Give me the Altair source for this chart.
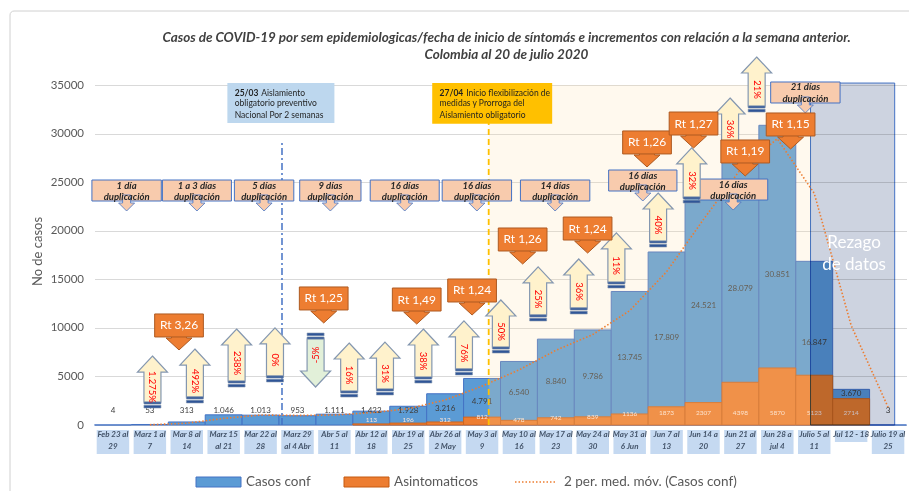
import altair as alt
import pandas as pd

# ---------------- data ----------------
week_line1 = ["Feb 23 al", "Marz 1 al", "Mar 8 al", "Marz 15", "Mar 22 al", "Marz 29",
              "Abr 5 al", "Abr 12 al", "Abr 19 al", "Abr 26 al", "May 3 al", "May 10 al",
              "May 17 al", "May 24 al", "May 31 al", "Jun 7 al", "Jun 14 a", "Jun 21 al",
              "Jun 28 a", "Julio 5 al", "Jul 12 - 18", "Julio 19 al"]
week_line2 = ["29", "7", "14", "al 21", "28", "al 4 Abr", "11", "18", "25", "2 May", "9",
              "16", "23", "30", "6 Jun", "13", "20", "27", "jul 4", "11", "", "25"]
casos_conf = [4, 53, 313, 1046, 1013, 953, 1111, 1422, 1928, 3216, 4791, 6540, 8840,
              9786, 13745, 17809, 24521, 28079, 30851, 16847, 3670, 3]
asintomaticos = [0, 0, 0, 0, 0, 0, 0, 113, 196, 312, 812, 478, 742, 839, 1136, 1873,
                 2307, 4398, 5870, 5123, 2714, 0]

title_text = ("Casos de COVID-19 por sem epidemiologicas/fecha de inicio de síntomás e "
              "incrementos con relación a la semana anterior.\nColombia al 20 de julio 2020")
legend_labels = ["Casos conf", "Asintomaticos", "2 per. med. móv. (Casos conf)"]
y_ticks = [0, 5000, 10000, 15000, 20000, 25000, 30000, 35000]

# percentage-change callouts (week position, arrow tip, arrow tail in cases)
pct_x = [1.07, 2.22, 3.35, 4.39, 5.49, 6.40, 7.37, 8.41, 9.51, 10.51, 11.52, 12.62,
         13.64, 14.77, 15.68, 16.72, 17.44]
pct_tip = [7100, 7820, 9880, 9990, 3910, 8440, 8540, 9880, 10710, 12870, 16270, 17090,
           19770, 23880, 28520, 33660, 37880]
pct_tail = [1750, 2270, 3910, 4430, 9470, 2880, 3090, 4320, 5150, 7410, 10710, 11430,
            14100, 18320, 22850, 28310, 32220]
pct_label = ["1.275%", "492%", "238%", "0%", "-5%", "16%", "31%", "38%", "76%", "50%",
             "25%", "36%", "11%", "40%", "32%", "36%", "21%"]

# Rt callouts (week position, top of box in cases)
rt_x = [1.79, 5.71, 8.23, 9.73, 11.10, 12.86, 14.47, 15.73, 17.13, 18.36]
rt_top = [11430, 14210, 14100, 15030, 20280, 21410, 30270, 32220, 29340, 32120]
rt_label = ["Rt 3,26", "Rt 1,25", "Rt 1,49", "Rt 1,24", "Rt 1,26", "Rt 1,24",
            "Rt 1,26", "Rt 1,27", "Rt 1,19", "Rt 1,15"]

# doubling-time callouts
dup_x1 = [-0.57, 1.34, 3.29, 5.06, 6.97, 8.92, 11.04, 13.43, 15.87, 17.82]
dup_x2 = [1.31, 3.21, 4.90, 6.72, 8.84, 10.80, 12.92, 15.28, 17.74, 19.70]
dup_top = [25220, 25220, 25220, 25220, 25220, 25220, 25220, 26250, 25320, 35310]
dup_label = ["1 día", "1 a 3 días", "5 días", "9 días", "16 días", "16 días",
             "14 días", "16 días", "16 días", "21 días"]

# notes
note_x1 = [3.1, 8.65]
note_x2 = [6.0, 11.9]
note_y1 = [31100, 31000]
note_y2 = [35200, 35200]
note_fill = ["#BDD7EE", "#FFC000"]
note_bold = ["25/03", "27/04"]
note_rest = ["Aislamiento", "Inicio flexibilización de"]
note_more = ["obligatorio preventivo\nNacional  Por 2 semanas",
             "medidas y Prorroga del\nAislamiento obligatorio"]

# event lines and shaded regions
vline_x = [4.58, 10.18]
vline_top = [29340, 35000]
cream_x = [10.18, 18.9]
rezago_x = [18.9, 21.18]
rezago_top = 35200

# ---------------- layout ----------------
W, H = 812, 340
X_DOM = [-0.5, 21.5]
Y_MAX = 35000
PX = Y_MAX / H  # cases per pixel
FONT = "Lato"

xs = alt.Scale(domain=X_DOM, nice=False, zero=False)
ys = alt.Scale(domain=[0, Y_MAX], nice=False, zero=False)

yaxis = alt.Axis(values=y_ticks, format="d", grid=True, gridColor="#D9D9D9", gridWidth=1.2,
                 domain=False, ticks=False, labelColor="#595959", labelFontSize=11.5,
                 labelFont=FONT, labelPadding=11, title="No de casos", titleFont=FONT,
                 titleFontSize=13, titleColor="#595959", titleFontWeight="normal",
                 titleX=-50, titleY=166)


def qx(f):
    return alt.X(f"{f}:Q", scale=xs, axis=None)


def qy(f):
    return alt.Y(f"{f}:Q", scale=ys, axis=yaxis)


one = pd.DataFrame({"k": [0]})

df = pd.DataFrame({"idx": list(range(len(casos_conf))), "casos": casos_conf,
                   "asin": asintomaticos, "l1": week_line1, "l2": week_line2})
df["x0"] = df["idx"] - 0.5
df["x1"] = df["idx"] + 0.5
df["b0"] = df["idx"] - 0.44
df["b1"] = df["idx"] + 0.44
df["zero"] = 0
df["lab_c"] = [f"{v:,}".replace(",", ".") for v in casos_conf]
df["ly_c"] = [max(v / 2, 1400, (v + a) / 2 if a > v / 2 else 0)
              for v, a in zip(casos_conf, asintomaticos)]
df["lab_a"] = [str(a) for a in asintomaticos]
df["ly_a"] = [min(max(a, 500), 1250) for a in asintomaticos]
df["xl"] = [a + ("\n" + b if b else "") for a, b in zip(week_line1, week_line2)]

border = alt.Chart(one).mark_rect(fillOpacity=0, stroke="#D0D0D0", strokeWidth=1,
                                  cornerRadius=4).encode(
    x=alt.value(-84.5), x2=alt.value(830), y=alt.value(-74), y2=alt.value(420))

blue_bars = alt.Chart(df).mark_rect(fill="#5B9BD5", stroke="#4472C4", strokeWidth=1).encode(
    x=qx("x0"), x2="x1", y=qy("zero"), y2="casos")

orange_bars = alt.Chart(df).transform_filter("datum.asin > 0").mark_rect(
    fill="#ED7D31", stroke="#D0651E", strokeWidth=1).encode(
    x=qx("x0"), x2="x1", y=qy("zero"), y2="asin")

lab_c = alt.Chart(df).mark_text(fontSize=8, color="#404040", font=FONT).encode(
    x=qx("idx"), y=qy("ly_c"), text="lab_c")
lab_a = alt.Chart(df).transform_filter("datum.asin > 0").mark_text(
    fontSize=6.5, color="#FCE4D6", font=FONT).encode(x=qx("idx"), y=qy("ly_a"), text="lab_a")

cream = alt.Chart(pd.DataFrame({"a": [cream_x[0]], "b": [cream_x[1]], "c": [0], "d": [Y_MAX]})
                  ).mark_rect(fill="#FFE3AC", fillOpacity=0.2).encode(
    x=qx("a"), x2="b", y=qy("c"), y2="d")

rezago = alt.Chart(pd.DataFrame({"a": [rezago_x[0]], "b": [rezago_x[1]], "c": [0],
                                 "d": [rezago_top]})).mark_rect(
    fill="#CDD3E0", stroke="#4472C4", strokeWidth=1, blend="multiply").encode(
    x=qx("a"), x2="b", y=qy("c"), y2="d")

ma_line = alt.Chart(df).transform_window(
    ma="mean(casos)", frame=[-1, 0], sort=[alt.SortField("idx")]
).transform_filter("datum.idx >= 1").mark_line(
    color="#ED7D31", strokeDash=[1.5, 2], strokeWidth=1.6).encode(x=qx("idx"), y=qy("ma"))

rezago_text = alt.Chart(pd.DataFrame({"x": [20.08], "y": [18700], "t": ["Rezago\nde datos"]})
                        ).mark_text(color="white", fontSize=17, lineBreak="\n", lineHeight=22,
                                    font=FONT).encode(x=qx("x"), y=qy("y"), text="t")

vdf = pd.DataFrame({"x": vline_x, "y0": [0, 0], "y1": vline_top})
vline_blue = alt.Chart(vdf.iloc[[0]]).mark_rule(color="#4472C4", strokeWidth=1.5,
                                               strokeDash=[7, 3, 2, 3]).encode(
    x=qx("x"), y=qy("y0"), y2="y1")
vline_yel = alt.Chart(vdf.iloc[[1]]).mark_rule(color="#FFC000", strokeWidth=1.8,
                                              strokeDash=[6, 4]).encode(
    x=qx("x"), y=qy("y0"), y2="y1")

ndf = pd.DataFrame({"x1": note_x1, "x2": note_x2, "y1": note_y1, "y2": note_y2,
                    "fill": note_fill, "bold": note_bold, "rest": note_rest, "more": note_more})
ndf["tx"] = ndf["x1"] + 0.2
ndf["tx2"] = ndf["x1"] + 0.92
ndf["ty"] = ndf["y2"] - 10 * PX
ndf["ty2"] = ndf["y2"] - 16 * PX
note_rect = alt.Chart(ndf).mark_rect().encode(
    x=qx("x1"), x2="x2", y=qy("y1"), y2="y2", fill=alt.Fill("fill:N", scale=None))
note_b = alt.Chart(ndf).mark_text(align="left", fontWeight="bold", fontSize=8.5,
                                  color="#1F1F1F", font=FONT).encode(
    x=qx("tx"), y=qy("ty"), text="bold")
note_r = alt.Chart(ndf).mark_text(align="left", fontSize=8.5, color="#1F1F1F",
                                  font=FONT).encode(x=qx("tx2"), y=qy("ty"), text="rest")
note_m = alt.Chart(ndf).mark_text(align="left", baseline="top", fontSize=8.5,
                                  color="#1F1F1F", font=FONT, lineBreak="\n",
                                  lineHeight=11.5).encode(
    x=qx("tx"), y=qy("ty2"), text="more")

# doubling boxes
ddf = pd.DataFrame({"x1": dup_x1, "x2": dup_x2, "ytop": dup_top, "lab": dup_label})
ddf["ybot"] = ddf["ytop"] - 21 * PX
ddf["xc"] = (ddf["x1"] + ddf["x2"]) / 2
ddf["yt"] = ddf["ytop"] - 5.5 * PX
ddf["ay"] = ddf["ybot"] - 2 * PX
ddf["txt"] = ddf["lab"] + "\nduplicación"
DUP_ARROW = "M-0.5,-1 L0.5,-1 L0.5,0 L1,0 L0,1 L-1,0 L-0.5,0 Z"
dup_rect = alt.Chart(ddf).mark_rect(fill="#F8CBAD", stroke="#4472C4", strokeWidth=1).encode(
    x=qx("x1"), x2="x2", y=qy("ybot"), y2="ytop")
dup_arrow = alt.Chart(ddf).mark_point(shape=DUP_ARROW, size=256, filled=True,
                                      fill="#F8CBAD", stroke="#4472C4", strokeWidth=0.8,
                                      opacity=1).encode(x=qx("xc"), y=qy("ay"))
dup_text = alt.Chart(ddf).mark_text(lineBreak="\n", lineHeight=11.5, fontStyle="italic",
                                    fontWeight="bold", fontSize=9.5, color="#262626",
                                    font=FONT).encode(x=qx("xc"), y=qy("yt"), text="txt")

# x category label boxes
xl_two = alt.Chart(df).transform_filter("datum.l2 != ''").mark_rect(fill="#C5D9F1").encode(
    x=qx("b0"), x2="b1", y=alt.value(345), y2=alt.value(369))
xl_one = alt.Chart(df).transform_filter("datum.l2 == ''").mark_rect(fill="#C5D9F1").encode(
    x=qx("b0"), x2="b1", y=alt.value(345), y2=alt.value(357))
xl_text = alt.Chart(df).mark_text(baseline="top", lineBreak="\n", lineHeight=12,
                                  fontStyle="italic", fontWeight="bold", fontSize=8,
                                  color="#44546A", font=FONT).encode(
    x=qx("idx"), y=alt.value(346), text="xl")

# percentage arrows
U = 60.0
HW, SW, HH, TAIL = 15, 8.5, 16, 6


def pth(pts):
    return "M" + " L".join(f"{x / U:.4f},{y / U:.4f}" for x, y in pts) + " Z"


def arrow_body(L, up):
    a = L / 2
    s = -1 if up else 1
    pts = [(0, s * a), (HW, s * (a - HH)), (SW, s * (a - HH)), (SW, -s * (a - TAIL)),
           (-SW, -s * (a - TAIL)), (-SW, s * (a - HH)), (-HW, s * (a - HH))]
    return pth(pts)


def arrow_stripes(L, up):
    a = L / 2
    s = 1 if up else -1
    bands = [(a - TAIL, a - 4), (a - 2.8, a)]
    out = []
    for y0, y1 in bands:
        out.append(pth([(-SW, s * y0), (SW, s * y0), (SW, s * y1), (-SW, s * y1)]))
    return " ".join(out)


pdf = pd.DataFrame({"x": pct_x, "ytip": pct_tip, "ytail": pct_tail, "lab": pct_label})
pdf["up"] = pdf["ytip"] > pdf["ytail"]
pdf["yc"] = (pdf["ytip"] + pdf["ytail"]) / 2
pdf["L"] = (pdf["ytip"] - pdf["ytail"]).abs() / PX
pdf["body"] = [arrow_body(L, u) for L, u in zip(pdf["L"], pdf["up"])]
pdf["stripes"] = [arrow_stripes(L, u) for L, u in zip(pdf["L"], pdf["up"])]
pdf["fillc"] = ["#FFF2CC" if u else "#E2F0D9" for u in pdf["up"]]
pdf["ty"] = [y - 5 * PX if u else y + 5 * PX for y, u in zip(pdf["yc"], pdf["up"])]
pdf["ang"] = [90 if u else 270 for u in pdf["up"]]
pdf = pdf.drop(columns=["up"])

pct_body = alt.Chart(pdf).mark_point(filled=True, size=14400, opacity=1, stroke="#8497B0",
                                     strokeWidth=1.2).encode(
    x=qx("x"), y=qy("yc"), shape=alt.Shape("body:N", scale=None),
    fill=alt.Fill("fillc:N", scale=None))
pct_str = alt.Chart(pdf).mark_point(filled=True, size=14400, opacity=1, fill="#2F5597",
                                    stroke="#8497B0", strokeWidth=0.6).encode(
    x=qx("x"), y=qy("yc"), shape=alt.Shape("stripes:N", scale=None))
pct_text = alt.Chart(pdf).mark_text(color="#FF0000", fontSize=9.5, font=FONT).encode(
    x=qx("x"), y=qy("ty"), text="lab", angle=alt.Angle("ang:Q", scale=None))

# Rt callouts
rdf = pd.DataFrame({"x": rt_x, "ytop": rt_top, "lab": rt_label})
rdf["ybot"] = rdf["ytop"] - 23 * PX
rdf["x1"] = rdf["x"] - 0.66
rdf["x2"] = rdf["x"] + 0.66
rdf["yc"] = (rdf["ytop"] + rdf["ybot"]) / 2
RT_ARROW = "M-0.58,-1 L0.58,-1 L0.58,0.08 L1,0.08 L0,1 L-1,0.08 L-0.58,0.08 Z"
rt_arrow = alt.Chart(rdf).mark_point(shape=RT_ARROW, size=676, filled=True, fill="#ED7D31",
                                     stroke="#AE5A21", strokeWidth=1, opacity=1).encode(
    x=qx("x"), y=qy("ybot"))
rt_rect = alt.Chart(rdf).mark_rect(fill="#ED7D31", stroke="#AE5A21", strokeWidth=1).encode(
    x=qx("x1"), x2="x2", y=qy("ybot"), y2="ytop")
rt_text = alt.Chart(rdf).mark_text(color="white", fontSize=12, font=FONT).encode(
    x=qx("x"), y=qy("yc"), text="lab")

# legend
leg_rect = alt.Chart(pd.DataFrame({"a": [101.5, 249.5], "b": [146.5, 294.5],
                                   "f": ["#5B9BD5", "#ED7D31"], "s": ["#4472C4", "#C55A11"]})
                     ).mark_rect(strokeWidth=1).encode(
    x=alt.X("a:Q", scale=None), x2="b", y=alt.value(392), y2=alt.value(402),
    fill=alt.Fill("f:N", scale=None), stroke=alt.Stroke("s:N", scale=None))
leg_line = alt.Chart(one).mark_rule(color="#ED7D31", strokeDash=[1.5, 2], strokeWidth=1.6
                                    ).encode(x=alt.value(420.5), x2=alt.value(462.5),
                                             y=alt.value(397))
leg_text = alt.Chart(pd.DataFrame({"a": [151.5, 299.5, 469.5], "t": legend_labels})
                     ).mark_text(align="left", fontSize=13.5, color="#595959", font=FONT
                                 ).encode(x=alt.X("a:Q", scale=None), y=alt.value(397), text="t")

title = alt.Chart(pd.DataFrame({"t": [title_text]})).mark_text(
    fontStyle="italic", fontWeight="bold", fontSize=13.5, color="#404040", lineBreak="\n",
    lineHeight=17, font=FONT).encode(x=alt.value(412), y=alt.value(-47), text="t")

chart = alt.layer(
    blue_bars, border, orange_bars, lab_c, lab_a, cream, rezago, ma_line, rezago_text,
    vline_blue, vline_yel, note_rect, note_b, note_r, note_m,
    dup_rect, dup_arrow, dup_text, xl_two, xl_one, xl_text,
    pct_body, pct_str, pct_text, rt_arrow, rt_rect, rt_text,
    leg_rect, leg_line, leg_text, title
).properties(
    width=W, height=H,
    padding={"left": 86.5, "top": 77, "right": 2.5, "bottom": 66},
    autosize=alt.AutoSizeParams(type="none"),
    background="white",
).configure_view(stroke=None)

chart.save("out.html", embed_options={"renderer": "svg", "actions": False})
